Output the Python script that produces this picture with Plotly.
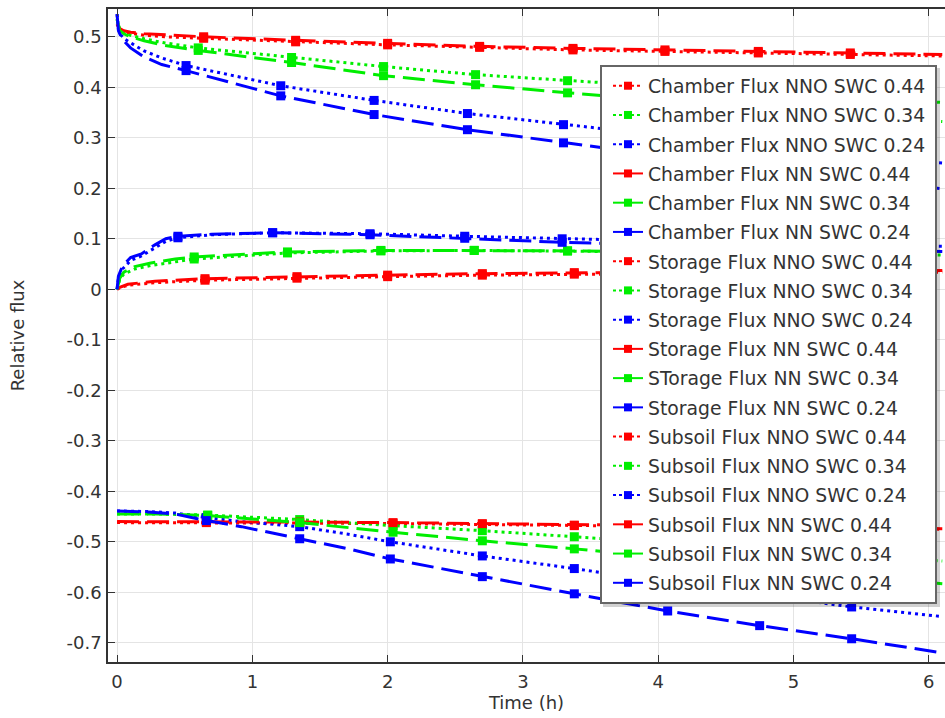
import plotly.graph_objects as go

# ---------------- data ----------------
# Chamber flux
CH_T_44 = [0, 0.02, 0.05, 0.1, 0.2, 0.35, 0.64, 1.32, 2.0, 2.68, 3.37, 4.05, 4.74, 5.42, 6.1]
CH_NNO_44 = [0.525, 0.515, 0.510, 0.507, 0.503, 0.500, 0.497, 0.490, 0.484, 0.479, 0.474, 0.471, 0.468, 0.465, 0.462]
CH_NN_44 = [0.525, 0.516, 0.512, 0.509, 0.506, 0.504, 0.500, 0.493, 0.487, 0.481, 0.477, 0.474, 0.471, 0.468, 0.465]
CH_MK_44 = [0.64, 1.32, 2.0, 2.68, 3.37, 4.05, 4.74, 5.42]

CH_T_34 = [0, 0.02, 0.05, 0.1, 0.2, 0.35, 0.6, 1.29, 1.97, 2.65, 3.33, 4.01, 4.7, 5.39, 6.1]
CH_NNO_34 = [0.535, 0.514, 0.508, 0.503, 0.496, 0.488, 0.478, 0.459, 0.441, 0.425, 0.413, 0.402, 0.391, 0.380, 0.370]
CH_NN_34 = [0.535, 0.512, 0.506, 0.500, 0.492, 0.483, 0.473, 0.449, 0.423, 0.405, 0.389, 0.374, 0.360, 0.346, 0.332]
CH_MK_34 = [0.6, 1.29, 1.97, 2.65, 3.33, 4.01, 4.7, 5.39]

CH_T_24 = [0, 0.01, 0.03, 0.06, 0.1, 0.2, 0.33, 0.51, 1.21, 1.9, 2.59, 3.3, 3.99, 4.69, 5.39, 6.1]
CH_NNO_24 = [0.545, 0.515, 0.503, 0.495, 0.488, 0.472, 0.458, 0.443, 0.403, 0.374, 0.348, 0.326, 0.306, 0.287, 0.268, 0.250]
CH_NN_24 = [0.545, 0.512, 0.500, 0.489, 0.478, 0.460, 0.445, 0.433, 0.383, 0.346, 0.316, 0.290, 0.266, 0.243, 0.221, 0.199]
CH_MK_24 = [0.51, 1.21, 1.9, 2.59, 3.3, 3.99, 4.69, 5.39]

# Storage flux
ST_T_44 = [0, 0.02, 0.08, 0.28, 0.65, 1.33, 2.0, 2.7, 3.38, 4.06, 4.74, 5.42, 6.1]
ST_NNO_44 = [0, 0.003, 0.008, 0.013, 0.018, 0.022, 0.025, 0.028, 0.030, 0.031, 0.032, 0.033, 0.034]
ST_NN_44 = [0, 0.004, 0.010, 0.016, 0.021, 0.025, 0.028, 0.031, 0.033, 0.034, 0.035, 0.036, 0.037]
ST_MK_44 = [0.65, 1.33, 2.0, 2.7, 3.38, 4.06, 4.74, 5.42]

ST_T_34 = [0, 0.02, 0.05, 0.13, 0.25, 0.43, 0.57, 1.26, 1.95, 2.64, 3.33, 4.02, 4.71, 5.4, 6.1]
ST_NNO_34 = [0, 0.020, 0.030, 0.040, 0.047, 0.055, 0.060, 0.072, 0.076, 0.077, 0.076, 0.074, 0.072, 0.070, 0.068]
ST_NN_34 = [0, 0.022, 0.034, 0.045, 0.052, 0.060, 0.064, 0.074, 0.077, 0.077, 0.076, 0.074, 0.072, 0.070, 0.068]
ST_MK_34 = [0.57, 1.26, 1.95, 2.64, 3.33, 4.02, 4.71, 5.4]

ST_T_24 = [0, 0.01, 0.04, 0.1, 0.18, 0.28, 0.36, 0.45, 0.7, 1.15, 1.87, 2.57, 3.29, 3.99, 4.69, 5.39, 6.1]
ST_NNO_24 = [0, 0.022, 0.040, 0.057, 0.066, 0.082, 0.095, 0.102, 0.108, 0.112, 0.110, 0.105, 0.100, 0.096, 0.092, 0.088, 0.085]
ST_NN_24 = [0, 0.026, 0.046, 0.063, 0.070, 0.088, 0.100, 0.105, 0.109, 0.112, 0.108, 0.101, 0.093, 0.088, 0.083, 0.079, 0.075]
ST_MK_24 = [0.45, 1.15, 1.87, 2.57, 3.29, 3.99, 4.69, 5.39]

# Subsoil flux
SU_T_44 = [0, 0.3, 0.66, 1.35, 2.04, 2.7, 3.38, 4.06, 4.74, 5.42, 6.1]
SU_NNO_44 = [-0.462, -0.462, -0.462, -0.463, -0.464, -0.466, -0.468, -0.470, -0.472, -0.473, -0.475]
SU_NN_44 = [-0.460, -0.460, -0.460, -0.461, -0.462, -0.464, -0.467, -0.469, -0.471, -0.472, -0.474]
SU_MK_44 = [0.66, 1.35, 2.04, 2.7, 3.38, 4.06, 4.74, 5.42]

SU_T_34 = [0, 0.3, 0.67, 1.35, 2.04, 2.7, 3.38, 4.06, 4.74, 5.42, 6.1]
SU_NNO_34 = [-0.445, -0.445, -0.447, -0.456, -0.468, -0.478, -0.490, -0.502, -0.514, -0.526, -0.538]
SU_NN_34 = [-0.445, -0.445, -0.448, -0.462, -0.481, -0.498, -0.514, -0.531, -0.548, -0.565, -0.583]
SU_MK_34 = [0.67, 1.35, 2.04, 2.7, 3.38, 4.06, 4.74, 5.42]

SU_T_24 = [0, 0.23, 0.43, 0.66, 0.92, 1.35, 1.71, 2.02, 2.7, 3.38, 4.07, 4.75, 5.43, 6.1]
SU_NNO_24 = [-0.439, -0.440, -0.443, -0.452, -0.460, -0.470, -0.485, -0.500, -0.528, -0.553, -0.580, -0.605, -0.629, -0.648]
SU_NN_24 = [-0.439, -0.441, -0.445, -0.458, -0.470, -0.494, -0.514, -0.534, -0.569, -0.603, -0.637, -0.666, -0.692, -0.720]
SU_MK_24 = [0.66, 1.35, 2.02, 2.7, 3.38, 4.07, 4.75, 5.43]

LEGEND_LABELS = [
    "Chamber Flux NNO SWC 0.44", "Chamber Flux NNO SWC 0.34", "Chamber Flux NNO SWC 0.24",
    "Chamber Flux NN SWC 0.44", "Chamber Flux NN SWC 0.34", "Chamber Flux NN SWC 0.24",
    "Storage Flux NNO SWC 0.44", "Storage Flux NNO SWC 0.34", "Storage Flux NNO SWC 0.24",
    "Storage Flux NN SWC 0.44", "STorage Flux NN SWC 0.34", "Storage Flux NN SWC 0.24",
    "Subsoil Flux NNO SWC 0.44", "Subsoil Flux NNO SWC 0.34", "Subsoil Flux NNO SWC 0.24",
    "Subsoil Flux NN SWC 0.44", "Subsoil Flux NN SWC 0.34", "Subsoil Flux NN SWC 0.24",
]
X_TICKS = [0, 1, 2, 3, 4, 5, 6]
Y_TICKS = [-0.7, -0.6, -0.5, -0.4, -0.3, -0.2, -0.1, 0, 0.1, 0.2, 0.3, 0.4, 0.5]
Y_TICK_TEXT = ["-0.7", "-0.6", "-0.5", "-0.4", "-0.3", "-0.2", "-0.1", "0",
               "0.1", "0.2", "0.3", "0.4", "0.5"]

# ---------------- styling ----------------
RED, GREEN, BLUE = "#ff0000", "#00ee00", "#0000ff"
DOT = "3px,4px"
DASH = "22px,8px"
FONT = "DejaVu Sans"
TXT = "#333333"

series = [
    # (t, v, marks, color, dash, legend_label)
    (CH_T_44, CH_NNO_44, CH_MK_44, RED, DOT, LEGEND_LABELS[0]),
    (CH_T_34, CH_NNO_34, CH_MK_34, GREEN, DOT, LEGEND_LABELS[1]),
    (CH_T_24, CH_NNO_24, CH_MK_24, BLUE, DOT, LEGEND_LABELS[2]),
    (CH_T_44, CH_NN_44, CH_MK_44, RED, DASH, LEGEND_LABELS[3]),
    (CH_T_34, CH_NN_34, CH_MK_34, GREEN, DASH, LEGEND_LABELS[4]),
    (CH_T_24, CH_NN_24, CH_MK_24, BLUE, DASH, LEGEND_LABELS[5]),
    (ST_T_44, ST_NNO_44, ST_MK_44, RED, DOT, LEGEND_LABELS[6]),
    (ST_T_34, ST_NNO_34, ST_MK_34, GREEN, DOT, LEGEND_LABELS[7]),
    (ST_T_24, ST_NNO_24, ST_MK_24, BLUE, DOT, LEGEND_LABELS[8]),
    (ST_T_44, ST_NN_44, ST_MK_44, RED, DASH, LEGEND_LABELS[9]),
    (ST_T_34, ST_NN_34, ST_MK_34, GREEN, DASH, LEGEND_LABELS[10]),
    (ST_T_24, ST_NN_24, ST_MK_24, BLUE, DASH, LEGEND_LABELS[11]),
    (SU_T_44, SU_NNO_44, SU_MK_44, RED, DOT, LEGEND_LABELS[12]),
    (SU_T_34, SU_NNO_34, SU_MK_34, GREEN, DOT, LEGEND_LABELS[13]),
    (SU_T_24, SU_NNO_24, SU_MK_24, BLUE, DOT, LEGEND_LABELS[14]),
    (SU_T_44, SU_NN_44, SU_MK_44, RED, DASH, LEGEND_LABELS[15]),
    (SU_T_34, SU_NN_34, SU_MK_34, GREEN, DASH, LEGEND_LABELS[16]),
    (SU_T_24, SU_NN_24, SU_MK_24, BLUE, DASH, LEGEND_LABELS[17]),
]

fig = go.Figure()

for t, v, mk, color, dash, label in series:
    fig.add_trace(go.Scatter(x=t, y=v, mode="lines", showlegend=False,
                             line=dict(color=color, width=3, dash=dash),
                             hoverinfo="skip"))
    mx = [ti for ti in t if ti in mk]
    my = [vi for ti, vi in zip(t, v) if ti in mk]
    fig.add_trace(go.Scatter(x=mx, y=my, mode="markers", showlegend=False,
                             marker=dict(color=color, size=9, symbol="square"),
                             hoverinfo="skip"))

# legend entries (NNO: dotted, NN: solid in the reference legend)
for i, (t, v, mk, color, dash, label) in enumerate(series):
    fig.add_trace(go.Scatter(
        x=[None], y=[None], mode="lines+markers", name=label,
        legendgroup="g%d" % i,
        line=dict(color=color, width=2, dash="dot" if dash == DOT else "solid"),
        marker=dict(color=color, size=8, symbol="square")))

W, H = 945, 718
ML, MT, MB, MR = 108, 9, 56, 0
PW, PH = W - ML - MR, H - MT - MB

def px2paper_x(px):
    return (px - ML) / PW

def px2paper_y(py):
    return (H - MB - py) / PH

leg_l, leg_t, leg_r, leg_b = 601, 66, 936, 603

# legend frame: soft shadow + white box with grey border
fig.add_shape(type="rect", xref="paper", yref="paper",
              x0=px2paper_x(leg_l + 2), x1=px2paper_x(leg_r + 4),
              y0=px2paper_y(leg_b + 4), y1=px2paper_y(leg_t + 2),
              fillcolor="rgba(0,0,0,0.18)", line=dict(width=0), layer="above")
fig.add_shape(type="rect", xref="paper", yref="paper",
              x0=px2paper_x(leg_l), x1=px2paper_x(leg_r),
              y0=px2paper_y(leg_b), y1=px2paper_y(leg_t),
              fillcolor="white", line=dict(width=2, color="#666666"), layer="above")

axis_common = dict(
    showgrid=True, gridcolor="#e4e4e4", gridwidth=1,
    zeroline=False, showline=True, linecolor="#333333", linewidth=1.5,
    ticks="inside", ticklen=7, tickwidth=1.2, tickcolor="#333333",
    tickfont=dict(family=FONT, size=18, color=TXT),
)

fig.update_layout(
    width=W, height=H,
    margin=dict(l=ML, r=MR, t=MT, b=MB, pad=0),
    plot_bgcolor="white", paper_bgcolor="white",
    font=dict(family=FONT, size=18, color=TXT),
    xaxis=dict(range=[-0.067, 6.12], tickvals=X_TICKS, mirror="ticks",
               ticklabelstandoff=3,
               title=dict(text="Time (h)", font=dict(family=FONT, size=18, color=TXT), standoff=0),
               **axis_common),
    yaxis=dict(range=[-0.738, 0.555], tickvals=Y_TICKS, ticktext=Y_TICK_TEXT, mirror=False,
               ticklabelstandoff=1,
               title=dict(text="Relative flux", font=dict(family=FONT, size=18, color=TXT), standoff=37),
               **axis_common),
    legend=dict(
        x=px2paper_x(leg_l + 7), y=px2paper_y(leg_t + 1), xanchor="left", yanchor="top",
        bgcolor="rgba(0,0,0,0)", borderwidth=0,
        font=dict(family=FONT, size=18.8, color=TXT),
        tracegroupgap=1.8, itemwidth=30,
    ),
)

fig.write_html("out.html")
